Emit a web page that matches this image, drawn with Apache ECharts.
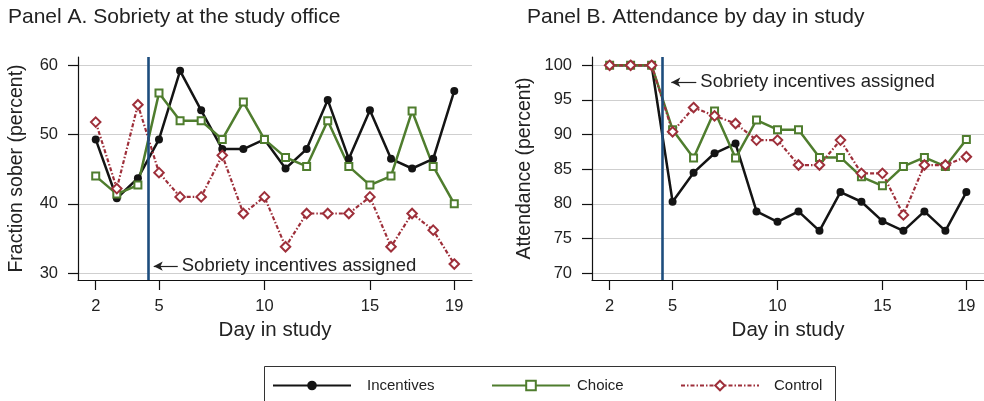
<!DOCTYPE html>
<html>
<head>
<meta charset="utf-8">
<script src="https://cdn.jsdelivr.net/npm/echarts@6/dist/echarts.min.js"></script>
<style>
  html, body { margin: 0; padding: 0; background: #fff; }
  #chart { width: 984px; height: 401px; }
</style>
</head>
<body>
<div id="chart"></div>
<script>
// days in study
var days = [2, 3, 4, 5, 6, 7, 8, 9, 10, 11, 12, 13, 14, 15, 16, 17, 18, 19];
var dayTicks = [2, 5, 10, 15, 19];

// Panel A: fraction sober (percent)
var soberIncentives = [49.3, 40.8, 43.7, 49.3, 59.2, 53.5, 47.9, 47.9, 49.3, 45.1, 47.9, 55.0, 46.5, 53.5, 46.5, 45.1, 46.5, 56.3];
var soberChoice     = [44.0, 41.4, 42.7, 56.0, 52.0, 52.0, 49.3, 54.7, 49.3, 46.7, 45.4, 52.0, 45.4, 42.7, 44.0, 53.4, 45.4, 40.0];
var soberControl    = [51.8, 42.2, 54.3, 44.5, 41.0, 41.0, 47.0, 38.6, 41.0, 33.8, 38.6, 38.6, 38.6, 41.0, 33.8, 38.6, 36.2, 31.3];
var soberTicks = [30, 40, 50, 60];

// Panel B: attendance (percent)
var attIncentives = [100, 100, 100, 80.3, 84.5, 87.3, 88.7, 78.9, 77.4, 78.9, 76.1, 81.7, 80.3, 77.5, 76.1, 78.9, 76.1, 81.7];
var attChoice     = [100, 100, 100, 90.7, 86.6, 93.4, 86.6, 92.1, 90.7, 90.7, 86.7, 86.7, 83.9, 82.6, 85.4, 86.7, 85.4, 89.3];
var attControl    = [100, 100, 100, 90.4, 93.9, 92.7, 91.6, 89.2, 89.2, 85.6, 85.6, 89.2, 84.4, 84.4, 78.4, 85.6, 85.6, 86.8];
var attTicks = [70, 75, 80, 85, 90, 95, 100];

var assignedDay = 4.5;
var noteText = 'Sobriety incentives assigned';

var FONT = 'Liberation Sans';
var INK = '#222222';
var BLACK = '#141414';
var GREEN = '#4f7d2e';
var RED = '#9e2f3a';
var BLUE = '#1d4d7d';

function pairs(vals) {
  return days.map(function (d, i) { return [d, vals[i]]; });
}

function xAxisFor(gridIndex) {
  return {
    type: 'value', gridIndex: gridIndex, min: 1.16, max: 19.84,
    name: 'Day in study', nameLocation: 'middle', nameGap: 40,
    nameTextStyle: { fontFamily: FONT, fontSize: 20.5, color: INK },
    axisLine: { lineStyle: { color: '#111', width: 1.2 } },
    axisTick: { show: true, length: 10, customValues: dayTicks, lineStyle: { color: '#111', width: 1.2 } },
    axisLabel: { customValues: dayTicks, margin: 18, fontFamily: FONT, fontSize: 16.5, color: INK },
    splitLine: { show: false }
  };
}

function yAxisFor(gridIndex, min, max, ticks, name, gap) {
  return {
    type: 'value', gridIndex: gridIndex, min: min, max: max,
    name: name, nameLocation: 'middle', nameGap: gap, nameRotate: 90,
    nameTextStyle: { fontFamily: FONT, fontSize: 19.5, color: INK },
    axisLine: { show: true, lineStyle: { color: '#111', width: 1.2 } },
    axisTick: { show: true, length: 10, customValues: ticks, lineStyle: { color: '#111', width: 1.2 } },
    axisLabel: { customValues: ticks, margin: 20, fontFamily: FONT, fontSize: 16.5, color: INK },
    splitLine: { show: true, lineStyle: { color: '#cfcfcf', width: 1.2 } }
  };
}

function lineSeries(name, vals, idx, kind) {
  var s = {
    name: name, type: 'line', xAxisIndex: idx, yAxisIndex: idx,
    data: pairs(vals), showSymbol: true
  };
  if (kind === 'inc') {
    s.symbol = 'circle'; s.symbolSize = 8;
    s.lineStyle = { color: BLACK, width: 2.5 };
    s.itemStyle = { color: BLACK };
  } else if (kind === 'cho') {
    s.symbol = 'emptyRect'; s.symbolSize = 7;
    s.lineStyle = { color: GREEN, width: 2.5 };
    s.itemStyle = { color: GREEN, borderWidth: 1.6 };
  } else {
    s.symbol = 'emptyDiamond'; s.symbolSize = 9.5;
    s.lineStyle = { color: RED, width: 2.2, type: [4, 2, 1.5, 2] };
    s.itemStyle = { color: RED, borderWidth: 2 };
  }
  return s;
}

function noteMarks(arrowFrom, arrowTo, y) {
  return {
    silent: true,
    symbol: ['none', 'none'],
    animation: false,
    data: [
      { xAxis: assignedDay },
      [{ coord: [arrowFrom, y], symbol: 'arrow', symbolSize: [7, 9],
         lineStyle: { color: INK, width: 1.2, type: 'solid' } },
       { coord: [arrowTo, y], symbol: 'none',
         label: { show: true, position: 'end', distance: 4, formatter: noteText,
                  fontFamily: FONT, fontSize: 18.5, color: INK } }]
    ],
    lineStyle: { color: BLUE, width: 2.6, type: 'solid' },
    label: { show: false }
  };
}

var series = [
  lineSeries('Incentives', soberIncentives, 0, 'inc'),
  lineSeries('Choice', soberChoice, 0, 'cho'),
  lineSeries('Control', soberControl, 0, 'con'),
  lineSeries('Incentives', attIncentives, 1, 'inc'),
  lineSeries('Choice', attChoice, 1, 'cho'),
  lineSeries('Control', attControl, 1, 'con')
];
series[0].markLine = noteMarks(4.75, 5.89, 31.0);
series[3].markLine = noteMarks(4.94, 6.13, 97.55);

function legendAt(name, left, pad) {
  return {
    data: [name], left: left, top: 378, padding: 0,
    itemWidth: 78, itemHeight: 12, selectedMode: false,
    textStyle: { fontFamily: FONT, fontSize: 15, color: INK, padding: [0, 0, 0, pad] }
  };
}

var chart = echarts.init(document.getElementById('chart'), null, { renderer: 'canvas' });
chart.setOption({
  animation: false,
  backgroundColor: '#fff',
  title: [
    { text: 'Panel A. Sobriety at the study office', left: 8, top: 7, padding: 0,
      textStyle: { fontFamily: FONT, fontSize: 21, fontWeight: 'normal', color: INK } },
    { text: 'Panel B. Attendance by day in study', left: 527, top: 7, padding: 0,
      textStyle: { fontFamily: FONT, fontSize: 21, fontWeight: 'normal', color: INK } }
  ],
  grid: [
    { left: 78, top: 57, width: 394, height: 223 },
    { left: 592, top: 57, width: 394, height: 223 }
  ],
  xAxis: [xAxisFor(0), xAxisFor(1)],
  yAxis: [
    yAxisFor(0, 29, 61.2, soberTicks, 'Fraction sober (percent)', 51),
    yAxisFor(1, 69, 101.2, attTicks, 'Attendance (percent)', 57)
  ],
  legend: [
    legendAt('Incentives', 272, 11),
    legendAt('Choice', 491, 2),
    legendAt('Control', 680, 10)
  ],
  graphic: [
    { type: 'rect', left: 262, top: 364, shape: { width: 571, height: 50 },
      style: { fill: 'none', stroke: '#333', lineWidth: 1 }, silent: true }
  ],
  series: series
});
</script>
</body>
</html>
